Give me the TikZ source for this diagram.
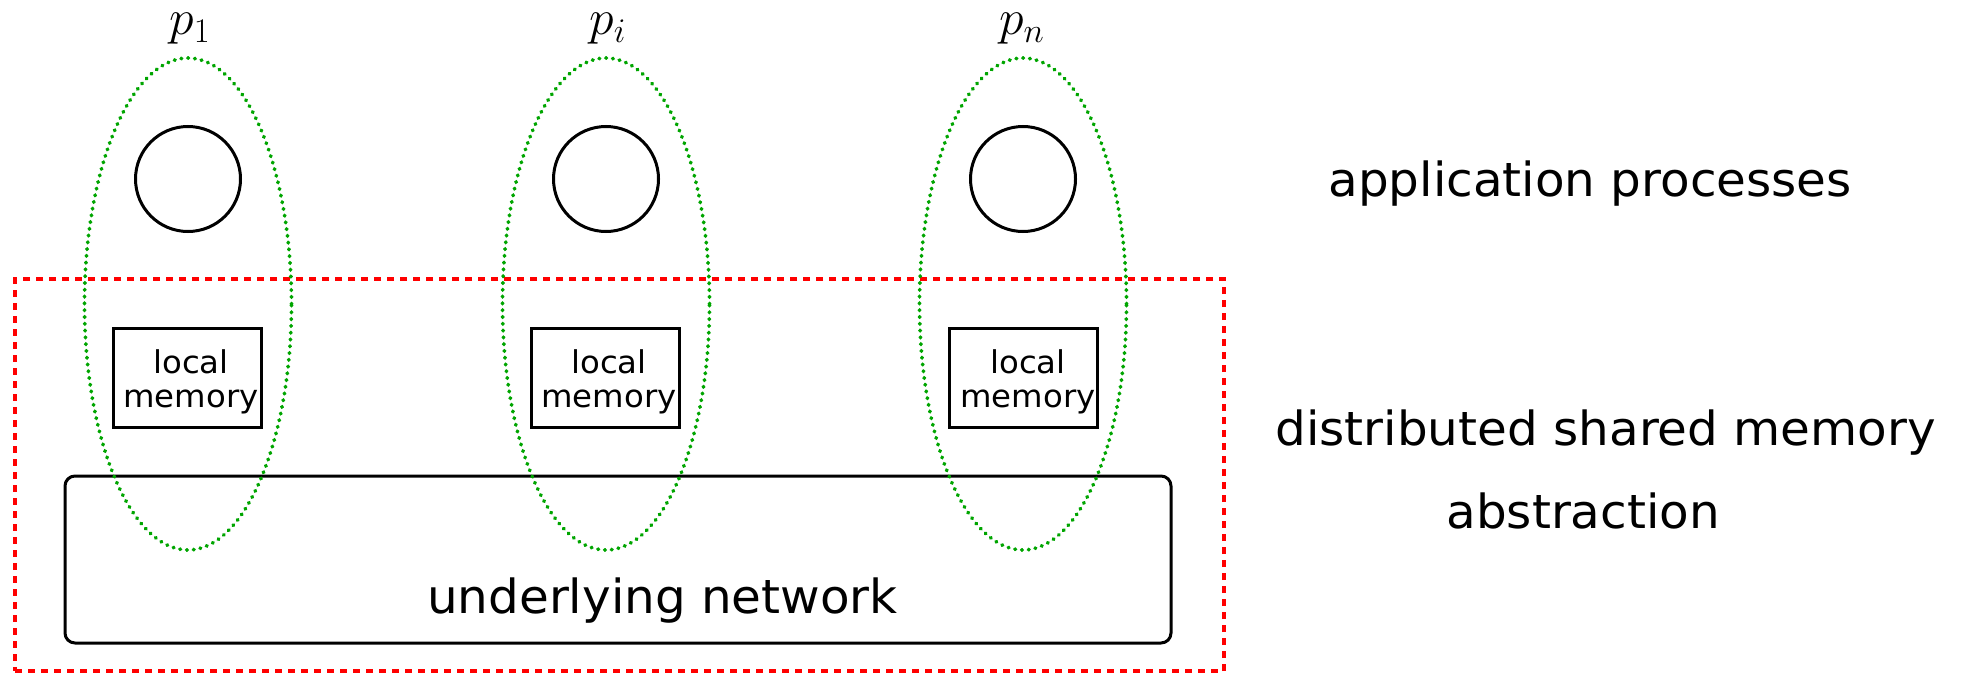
\documentclass[tikz,border=0pt]{standalone}
\usepackage{fontspec}
\usetikzlibrary{shapes.geometric}
\newfontfamily\dvs[FakeStretch=1.03]{DejaVu Sans}
\definecolor{dotgreen}{RGB}{0,165,0}
\definecolor{dashred}{RGB}{255,0,0}
\begin{document}
\begin{tikzpicture}[x=0.5pt,y=-0.5pt,
  proc/.style={circle,draw,line width=1.5pt,minimum size=52.5pt,inner sep=0pt},
  grp/.style={ellipse,draw=dotgreen,line width=1.9pt,dash pattern=on 0.3pt off 3.1pt,line cap=round,minimum width=103.5pt,minimum height=246pt,inner sep=0pt},
  mem/.style={rectangle,draw,line width=1.5pt,minimum width=74pt,minimum height=49.5pt,inner sep=0pt},
  memtxt/.style={font=\dvs\fontsize{15.7}{17}\selectfont,align=center,inner sep=0pt,anchor=base},
  net/.style={rectangle,draw,line width=1.5pt,rounded corners=5pt,minimum width=553pt,minimum height=83.5pt,inner sep=0pt},
  nettxt/.style={font=\dvs\fontsize{23.5}{27}\selectfont,inner sep=0pt,anchor=base},
  frame/.style={rectangle,draw=dashred,line width=1.7pt,dash pattern=on 3.5pt off 3pt,minimum width=604.5pt,minimum height=196pt,inner sep=0pt},
  plabel/.style={font=\fontsize{25}{30}\selectfont,anchor=base,inner sep=0pt},
  side/.style={font=\dvs\fontsize{23.5}{27}\selectfont,anchor=base west,inner sep=0pt}]
\useasboundingbox (0,0) rectangle (1968,674);

% distributed shared memory frame
\node[frame] (dsm) at (619.5,475) {};
% underlying network
\node[net] (network) at (618,559.5) {};
\node[nettxt] (nettext) at (662.5,613) {underlying network};

% local memories
\node[mem] (m1) at (187.5,377.5) {};
\node[mem] (mi) at (605.5,378) {};
\node[mem] (mn) at (1023,378) {};
\node[memtxt] (t1) at (191,407) {local\\memory};
\node[memtxt] (ti) at (609,407) {local\\memory};
\node[memtxt] (tn) at (1028,407) {local\\memory};

% processes
\node[proc] (c1) at (188,179) {};
\node[proc] (ci) at (606,179) {};
\node[proc] (cn) at (1023,179) {};

% process groups
\node[grp] (e1) at (188,304) {};
\node[grp] (ei) at (606,304) {};
\node[grp] (en) at (1023,304) {};

% process labels
\node[plabel] (p1) at (190,35) {$p_1$};
\node[plabel] (pi) at (608,35) {$p_i$};
\node[plabel] (pn) at (1022,35) {$p_n$};

% side labels
\node[side] (app) at (1328,196) {application processes};
\node[side] (dsm1) at (1275,445) {distributed shared memory};
\node[side] (dsm2) at (1446,528) {abstraction};
\end{tikzpicture}
\end{document}
